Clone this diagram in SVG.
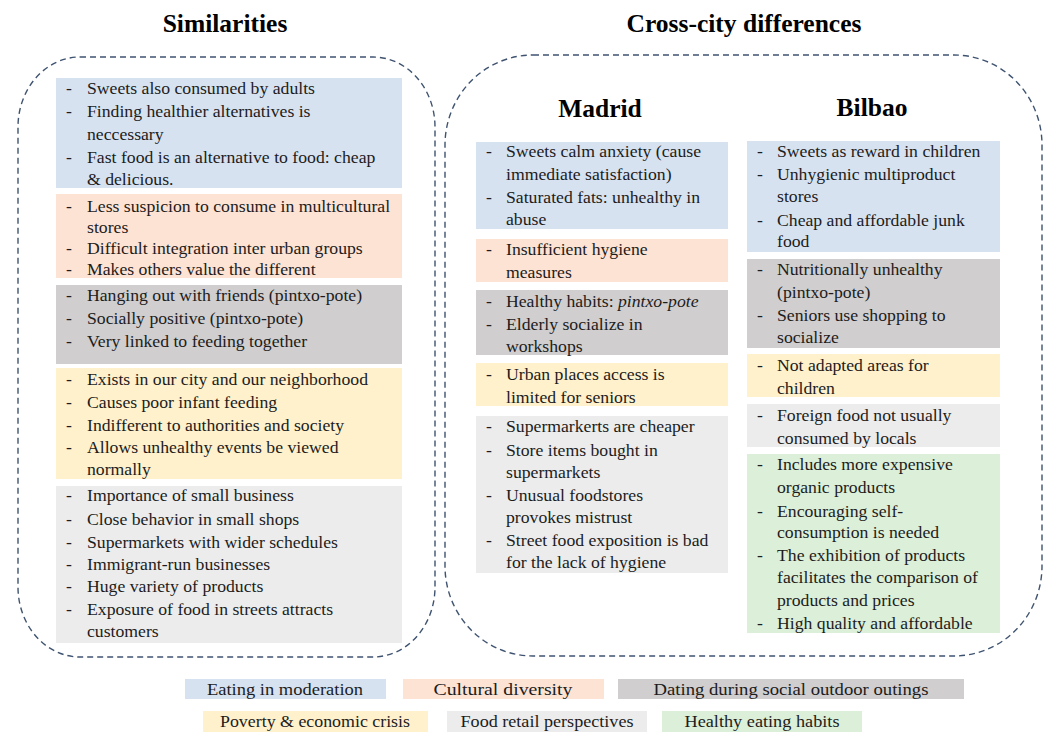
<svg xmlns="http://www.w3.org/2000/svg" width="1046" height="734" viewBox="0 0 1046 734">
<style>
.t{font-family:"Liberation Serif","Times New Roman",serif;font-size:17.7px;fill:#1c1c1c}
.h{font-family:"Liberation Serif","Times New Roman",serif;font-size:25.5px;font-weight:bold;fill:#000;text-anchor:middle}
.lg{font-family:"Liberation Serif","Times New Roman",serif;font-size:16.5px;fill:#1c1c1c;text-anchor:middle}
.frame{fill:none;stroke:#3f5370;stroke-width:1.4;stroke-dasharray:6 4}
.blue{fill:#d7e2f1}
.peach{fill:#fde3d4}
.gray{fill:#d0cece}
.yellow{fill:#fff1cc}
.lgray{fill:#ececec}
.green{fill:#dcefd8}
</style>
<rect width="1046" height="734" fill="#fff"/>
<g id="titles">
<text class="h" x="225" y="32">Similarities</text>
<text class="h" x="744" y="32">Cross-city differences</text>
<text class="h" x="600" y="117" font-size="24.5">Madrid</text>
<text class="h" x="872" y="116" font-size="25">Bilbao</text>
</g>
<g id="frames">
<rect id="similarities-frame" class="frame" x="18" y="57" width="417" height="600" rx="62" ry="70"/>
<rect id="differences-frame" class="frame" x="445" y="55" width="597" height="601" rx="88" ry="90"/>
</g>
<g id="sim-blue">
<rect class="blue" x="56" y="78" width="346" height="110"/>
<text class="t"><tspan x="66" y="94">-</tspan><tspan x="87" y="94">Sweets also consumed by adults</tspan><tspan x="66" y="117">-</tspan><tspan x="87" y="117">Finding healthier alternatives is</tspan><tspan x="87" y="140">neccessary</tspan><tspan x="66" y="163">-</tspan><tspan x="87" y="163">Fast food is an alternative to food: cheap</tspan><tspan x="87" y="185">&amp; delicious.</tspan></text>
</g>
<g id="sim-peach">
<rect class="peach" x="56" y="194" width="346" height="84"/>
<text class="t"><tspan x="66" y="212">-</tspan><tspan x="87" y="212">Less suspicion to consume in multicultural</tspan><tspan x="87" y="233">stores</tspan><tspan x="66" y="254">-</tspan><tspan x="87" y="254">Difficult integration inter urban groups</tspan><tspan x="66" y="275">-</tspan><tspan x="87" y="275">Makes others value the different</tspan></text>
</g>
<g id="sim-gray">
<rect class="gray" x="56" y="285" width="346" height="79"/>
<text class="t"><tspan x="66" y="301">-</tspan><tspan x="87" y="301">Hanging out with friends (pintxo-pote)</tspan><tspan x="66" y="324">-</tspan><tspan x="87" y="324">Socially positive (pintxo-pote)</tspan><tspan x="66" y="347">-</tspan><tspan x="87" y="347">Very linked to feeding together</tspan></text>
</g>
<g id="sim-yellow">
<rect class="yellow" x="56" y="368" width="346" height="111"/>
<text class="t"><tspan x="66" y="385">-</tspan><tspan x="87" y="385">Exists in our city and our neighborhood</tspan><tspan x="66" y="408">-</tspan><tspan x="87" y="408">Causes poor infant feeding</tspan><tspan x="66" y="431">-</tspan><tspan x="87" y="431">Indifferent to authorities and society</tspan><tspan x="66" y="453">-</tspan><tspan x="87" y="453">Allows unhealthy events be viewed</tspan><tspan x="87" y="475">normally</tspan></text>
</g>
<g id="sim-lgray">
<rect class="lgray" x="56" y="486" width="346" height="157"/>
<text class="t"><tspan x="66" y="501">-</tspan><tspan x="87" y="501">Importance of small business</tspan><tspan x="66" y="525">-</tspan><tspan x="87" y="525">Close behavior in small shops</tspan><tspan x="66" y="548">-</tspan><tspan x="87" y="548">Supermarkets with wider schedules</tspan><tspan x="66" y="570">-</tspan><tspan x="87" y="570">Immigrant-run businesses</tspan><tspan x="66" y="592">-</tspan><tspan x="87" y="592">Huge variety of products</tspan><tspan x="66" y="615">-</tspan><tspan x="87" y="615">Exposure of food in streets attracts</tspan><tspan x="87" y="637">customers</tspan></text>
</g>
<g id="mad-blue">
<rect class="blue" x="476" y="142" width="252" height="87"/>
<text class="t"><tspan x="486" y="157">-</tspan><tspan x="506" y="157">Sweets calm anxiety (cause</tspan><tspan x="506" y="180">immediate satisfaction)</tspan><tspan x="486" y="203">-</tspan><tspan x="506" y="203">Saturated fats: unhealthy in</tspan><tspan x="506" y="225">abuse</tspan></text>
</g>
<g id="mad-peach">
<rect class="peach" x="476" y="239" width="252" height="43"/>
<text class="t"><tspan x="486" y="255">-</tspan><tspan x="506" y="255">Insufficient hygiene</tspan><tspan x="506" y="278">measures</tspan></text>
</g>
<g id="mad-gray">
<rect class="gray" x="476" y="290" width="252" height="65"/>
<text class="t"><tspan x="486" y="307">-</tspan><tspan x="506" y="307">Healthy habits: </tspan><tspan font-style="italic">pintxo-pote</tspan><tspan x="486" y="330">-</tspan><tspan x="506" y="330">Elderly socialize in</tspan><tspan x="506" y="352">workshops</tspan></text>
</g>
<g id="mad-yellow">
<rect class="yellow" x="476" y="363" width="252" height="43"/>
<text class="t"><tspan x="486" y="380">-</tspan><tspan x="506" y="380">Urban places access is</tspan><tspan x="506" y="403">limited for seniors</tspan></text>
</g>
<g id="mad-lgray">
<rect class="lgray" x="476" y="416" width="252" height="157"/>
<text class="t"><tspan x="486" y="432">-</tspan><tspan x="506" y="432">Supermarkerts are cheaper</tspan><tspan x="486" y="456">-</tspan><tspan x="506" y="456">Store items bought in</tspan><tspan x="506" y="478">supermarkets</tspan><tspan x="486" y="501">-</tspan><tspan x="506" y="501">Unusual foodstores</tspan><tspan x="506" y="523">provokes mistrust</tspan><tspan x="486" y="546">-</tspan><tspan x="506" y="546">Street food exposition is bad</tspan><tspan x="506" y="568">for the lack of hygiene</tspan></text>
</g>
<g id="bil-blue">
<rect class="blue" x="747" y="141" width="253" height="111"/>
<text class="t"><tspan x="757" y="157">-</tspan><tspan x="777" y="157">Sweets as reward in children</tspan><tspan x="757" y="180">-</tspan><tspan x="777" y="180">Unhygienic multiproduct</tspan><tspan x="777" y="202">stores</tspan><tspan x="757" y="226">-</tspan><tspan x="777" y="226">Cheap and affordable junk</tspan><tspan x="777" y="247">food</tspan></text>
</g>
<g id="bil-gray">
<rect class="gray" x="747" y="259" width="253" height="89"/>
<text class="t"><tspan x="757" y="275">-</tspan><tspan x="777" y="275">Nutritionally unhealthy</tspan><tspan x="777" y="298">(pintxo-pote)</tspan><tspan x="757" y="321">-</tspan><tspan x="777" y="321">Seniors use shopping to</tspan><tspan x="777" y="343">socialize</tspan></text>
</g>
<g id="bil-yellow">
<rect class="yellow" x="747" y="354" width="253" height="43"/>
<text class="t"><tspan x="757" y="371">-</tspan><tspan x="777" y="371">Not adapted areas for</tspan><tspan x="777" y="394">children</tspan></text>
</g>
<g id="bil-lgray">
<rect class="lgray" x="747" y="404" width="253" height="43"/>
<text class="t"><tspan x="757" y="421">-</tspan><tspan x="777" y="421">Foreign food not usually</tspan><tspan x="777" y="444">consumed by locals</tspan></text>
</g>
<g id="bil-green">
<rect class="green" x="747" y="454" width="253" height="179"/>
<text class="t"><tspan x="757" y="470">-</tspan><tspan x="777" y="470">Includes more expensive</tspan><tspan x="777" y="493">organic products</tspan><tspan x="757" y="517">-</tspan><tspan x="777" y="517">Encouraging self-</tspan><tspan x="777" y="538">consumption is needed</tspan><tspan x="757" y="561">-</tspan><tspan x="777" y="561">The exhibition of products</tspan><tspan x="777" y="583">facilitates the comparison of</tspan><tspan x="777" y="606">products and prices</tspan><tspan x="757" y="629">-</tspan><tspan x="777" y="629">High quality and affordable</tspan></text>
</g>
<g id="legend">
<g id="lg-blue"><rect class="blue" x="185" y="679" width="201" height="20"/><text class="lg" x="285" y="695" textLength="156" lengthAdjust="spacingAndGlyphs">Eating in moderation</text></g>
<g id="lg-peach"><rect class="peach" x="403" y="679" width="201" height="20"/><text class="lg" x="503" y="695" textLength="139" lengthAdjust="spacingAndGlyphs">Cultural diversity</text></g>
<g id="lg-gray"><rect class="gray" x="618" y="679" width="346" height="20"/><text class="lg" x="791" y="695" textLength="275" lengthAdjust="spacingAndGlyphs">Dating during social outdoor outings</text></g>
<g id="lg-yellow"><rect class="yellow" x="203" y="711" width="225" height="21"/><text class="lg" x="315" y="727" textLength="190" lengthAdjust="spacingAndGlyphs">Poverty &amp; economic crisis</text></g>
<g id="lg-lgray"><rect class="lgray" x="447" y="711" width="200" height="21"/><text class="lg" x="547" y="727" textLength="173" lengthAdjust="spacingAndGlyphs">Food retail perspectives</text></g>
<g id="lg-green"><rect class="green" x="662" y="711" width="200" height="21"/><text class="lg" x="762" y="727" textLength="155" lengthAdjust="spacingAndGlyphs">Healthy eating habits</text></g>
</g>
</svg>
